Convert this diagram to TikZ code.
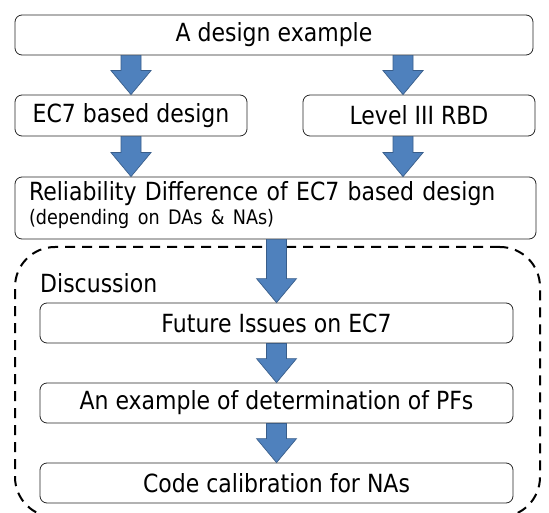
\documentclass[tikz,border=0pt]{standalone}
\usepackage{fontspec}
\setmainfont{DejaVu Sans}[FakeStretch=0.88]
\usetikzlibrary{calc}
\definecolor{arrowblue}{HTML}{4F81BD}
\definecolor{arrowline}{HTML}{385D8A}

\tikzset{
  box/.style={draw=black!85, line width=0.8pt, rounded corners=7pt, fill=white,
    inner sep=0pt, minimum height=40pt, font=\fontsize{25}{24}\selectfont},
  dashbox/.style={draw, line width=2pt, dash pattern=on 10pt off 7pt,
    rounded corners=40pt, inner sep=0pt},
  fatarrow/.style={draw=arrowline, fill=arrowblue, line width=0.7pt,
    to path={let \p1=(\tikztostart), \p2=(\tikztotarget) in
      (\x1-10pt,\y1) -- (\x1-10pt,\y2+24pt) -- (\x1-20pt,\y2+24pt) -- (\x2,\y2)
      -- (\x1+20pt,\y2+24pt) -- (\x1+10pt,\y2+24pt) -- (\x1+10pt,\y1) -- cycle}}
}

\begin{document}
\begin{tikzpicture}[x=1pt,y=-1pt]
\useasboundingbox (0,0) rectangle (549,513);
\clip (0,0) rectangle (549,513);
% discussion frame
\node[dashbox, minimum width=525pt, minimum height=270pt] (frame) at (277.5,382) {};
\node[anchor=base west, inner sep=0pt, font=\fontsize{25}{30}\selectfont] (disc) at (40,292) {Discussion};
\begin{scope}[every node/.style={box}]
\node[minimum width=518pt] (top) at (274,35) {A design example};
\node[minimum width=232pt, minimum height=41pt] (ec7) at (131,115.5) {EC7 based design};
\node[minimum width=232pt, minimum height=41pt] (rbd) at (419,115.5) {Level III RBD};
\node[minimum width=521pt, minimum height=62pt, text width=493pt, align=left] (rel) at (275.5,208)
  {Reliability Difference of EC7 based design\\{\fontsize{20}{24}\selectfont(depending on DAs \& NAs)\rule[-10pt]{0pt}{10pt}}};
\node[minimum width=473pt] (future) at (276.5,323) {Future Issues on EC7};
\node[minimum width=473pt] (pf) at (276.5,403) {An example of determination of PFs};
\node[minimum width=473pt] (calib) at (276.5,483) {Code calibration for NAs};
\end{scope}
\coordinate (rx) at (403,0);
\draw[fatarrow] (top.south -| ec7) to (ec7.north);
\draw[fatarrow] (top.south -| rx) to (rbd.north -| rx);
\draw[fatarrow] (ec7.south) to (rel.north -| ec7);
\draw[fatarrow] (rbd.south -| rx) to (rel.north -| rx);
\draw[fatarrow] (rel.south -| future) to (future.north);
\draw[fatarrow] (future.south) to (pf.north);
\draw[fatarrow] (pf.south) to (calib.north);
\end{tikzpicture}
\end{document}
